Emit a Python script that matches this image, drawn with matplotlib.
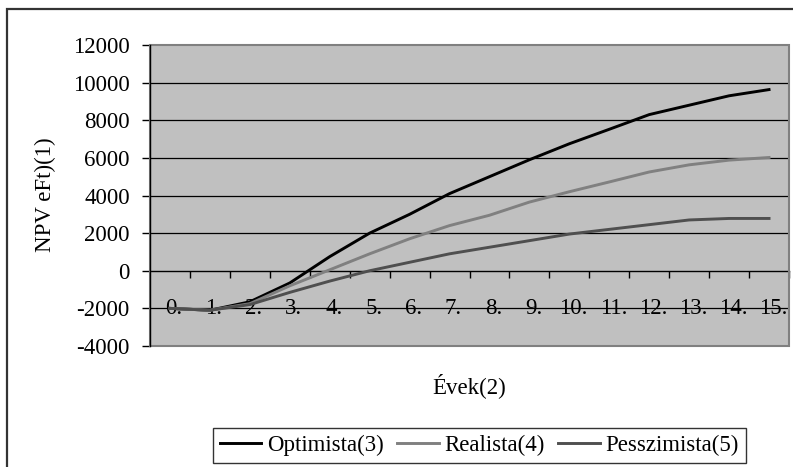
import matplotlib.pyplot as plt
from matplotlib.patches import Rectangle

plt.rcParams["font.family"] = ["Liberation Serif", "DejaVu Serif"]

# --- data ---
years = list(range(16))
year_labels = [f"{y}." for y in years]
optimista = [-2000, -2100, -1650, -650, 750, 2000, 3000, 4100, 5000, 5900,
             6750, 7520, 8300, 8800, 9300, 9630]
realista = [-2000, -2100, -1750, -800, 50, 900, 1700, 2400, 2950, 3650,
            4200, 4720, 5250, 5630, 5880, 6020]
pesszimista = [-2000, -2100, -1800, -1150, -550, 0, 450, 900, 1250, 1600,
               1950, 2200, 2450, 2700, 2780, 2780]
y_ticks = list(range(-4000, 12001, 2000))

W, H = 793, 467
FS = 16.5
fig = plt.figure(figsize=(W / 100, H / 100), dpi=100)
fig.patch.set_facecolor("white")

# outer chart frame (runs past the right/bottom edges of the picture)
fig.patches.append(Rectangle((7 / W, -0.2), 1.5, 1 - 9 / H + 0.2, transform=fig.transFigure,
                             fill=False, edgecolor="#333333", linewidth=1.6))

ax = fig.add_axes([150 / W, 1 - 346 / H, 639 / W, 301 / H])
ax.set_facecolor("#c0c0c0")

ax.plot(years, optimista, color="black", lw=2.1, label="Optimista(3)", zorder=4)
ax.plot(years, realista, color="#808080", lw=2.1, label="Realista(4)", zorder=4)
ax.plot(years, pesszimista, color="#4f4f4f", lw=2.1, label="Pesszimista(5)", zorder=4)

ax.set_xlim(-0.5, 15.5)
ax.set_ylim(-4000, 12000)

# horizontal gridlines
for v in y_ticks[1:-1]:
    if v != 0:
        ax.axhline(v, color="black", lw=0.9, zorder=1)

# plot-area border
ax.add_patch(Rectangle((0, 0), 1, 1, transform=ax.transAxes, fill=False,
                       edgecolor="#808080", lw=1.5, zorder=5, clip_on=False))

for s in ["top", "right"]:
    ax.spines[s].set_visible(False)
ax.spines["left"].set_color("black")
ax.spines["left"].set_linewidth(1.0)
ax.spines["left"].set_zorder(6)
ax.spines["bottom"].set_position(("data", 0))
ax.spines["bottom"].set_color("black")
ax.spines["bottom"].set_linewidth(1.0)

ax.set_yticks(y_ticks)
ax.set_yticklabels([str(v) for v in y_ticks], fontsize=FS)
ax.tick_params(axis="y", direction="out", length=5.5, width=1.0, pad=9)

ax.set_xticks([x + 0.5 for x in years])
ax.set_xticklabels([])
ax.tick_params(axis="x", direction="out", length=5, width=1.0)

for x, lab in zip(years, year_labels):
    ax.text(x + 0.1, -2000, lab, fontsize=FS, ha="center", va="center", zorder=3)

fig.text(45 / W, 1 - 195 / H, "NPV eFt)(1)", rotation=90, fontsize=FS,
         ha="center", va="center")
fig.text(469 / W, 1 - 386 / H, "Évek(2)", fontsize=FS, ha="center", va="center")

leg = fig.legend(loc="upper left", bbox_to_anchor=(213 / W, 1 - 428 / H), ncol=3,
                 fontsize=FS, frameon=True, fancybox=False, edgecolor="black",
                 handlelength=1.8, handletextpad=0.25, columnspacing=0.6,
                 borderpad=0.3, borderaxespad=0)
leg.get_frame().set_linewidth(1.0)

fig.savefig("out.png", dpi=100)
